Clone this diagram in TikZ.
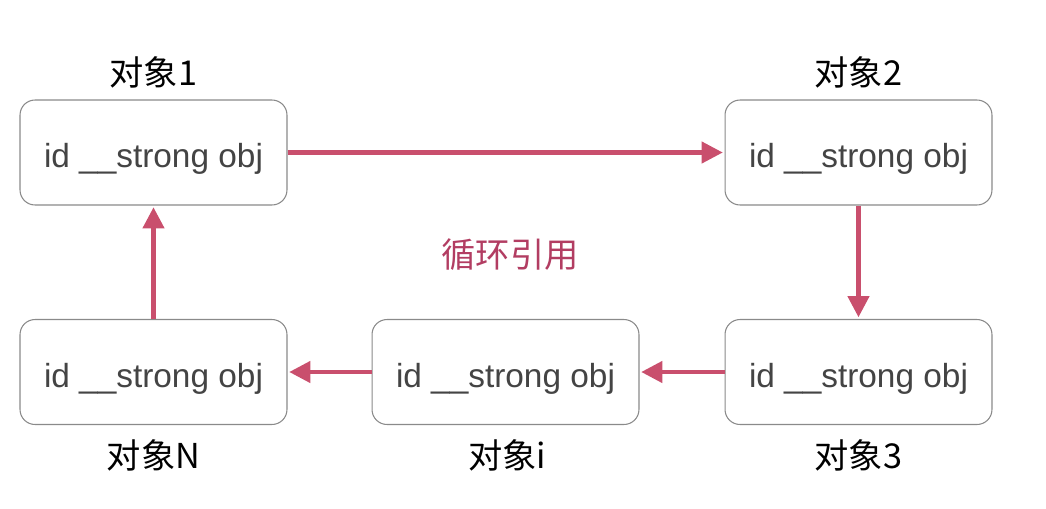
\documentclass[tikz,border=0pt]{standalone}
\usepackage{fontspec}
\setmainfont{Liberation Sans}
\newfontfamily\cjk{Noto Sans CJK SC}
\usetikzlibrary{arrows.meta}
\definecolor{linkred}{HTML}{C94F6D}
\definecolor{loopred}{HTML}{B23D62}
\definecolor{boxgray}{HTML}{8A8A8A}
\definecolor{textgray}{HTML}{444444}
\begin{document}
\begin{tikzpicture}[
  x=0.02cm, y=-0.02cm,
  objbox/.style={draw=boxgray, line width=0.6pt, rounded corners=0.3cm, fill=white,
    minimum width=5.34cm, minimum height=2.1cm, inner sep=0pt,
    text height=18pt, text depth=0.5pt,
    text=textgray, font=\fontsize{19}{22}\selectfont},
  objname/.style={text=black, font=\cjk\fontsize{19.5}{22}\selectfont},
  ref/.style={-{Triangle[length=12pt,width=12pt]}, draw=linkred, fill=linkred, line width=2.3pt, shorten >=1pt}
]
\useasboundingbox (0,0) rectangle (1046,508);
% objects in the cycle
\node[objbox] (o1) at (153.5,152.5) {id \_\_strong obj};
\node[objbox] (o2) at (858.5,152.5) {id \_\_strong obj};
\node[objbox] (o3) at (858.5,372) {id \_\_strong obj};
\node[objbox] (oi) at (505.5,372) {id \_\_strong obj};
\node[objbox] (on) at (153.5,372) {id \_\_strong obj};
% names
\node[objname] (n1) at (153.5,72) {对象1};
\node[objname] (n2) at (858.5,72) {对象2};
\node[objname] (n3) at (858.5,455) {对象3};
\node[objname] (ni) at (507,455) {对象i};
\node[objname] (nn) at (153.5,455) {对象N};
\node[objname, text=loopred] (loop) at (510,255) {循环引用};
% references
\draw[ref] (o1) -- (o2);
\draw[ref] (o2) -- (o3);
\draw[ref] (o3) -- (oi);
\draw[ref] (oi) -- (on);
\draw[ref] (on) -- (o1);
\end{tikzpicture}
\end{document}
